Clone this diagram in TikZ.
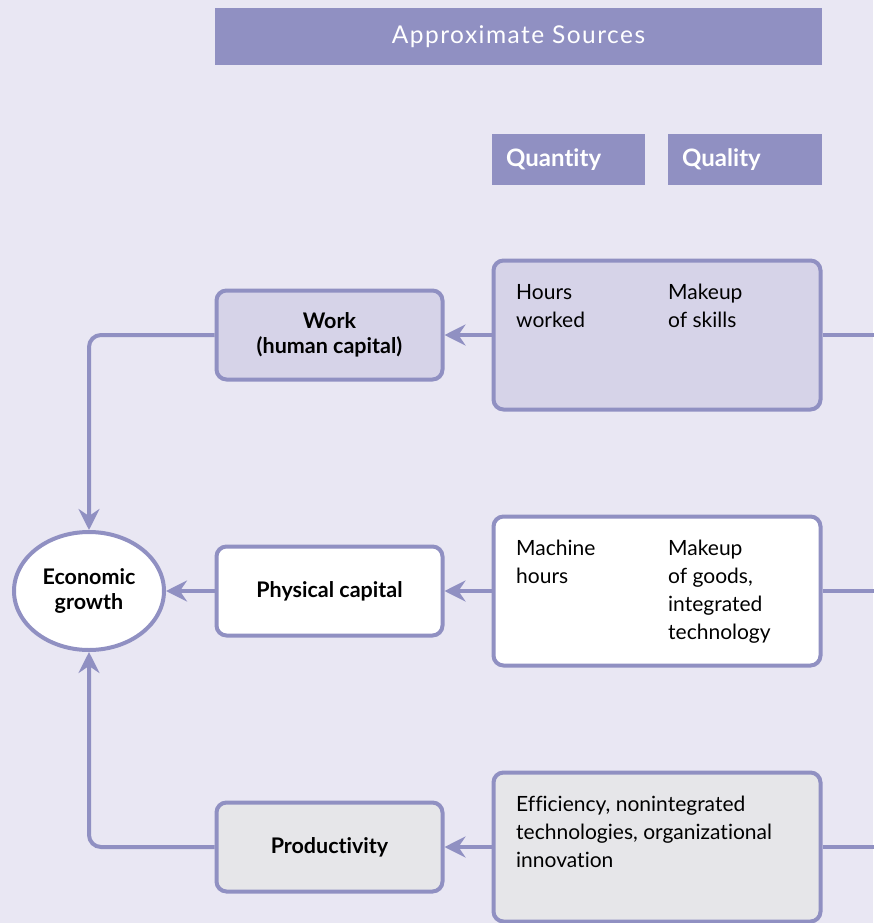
\documentclass[tikz,border=0pt]{standalone}
\usepackage{fontspec}
\setmainfont{Lato}[Ligatures={NoCommon}]
\usetikzlibrary{arrows.meta,shapes.geometric}
\definecolor{bg}{HTML}{E9E7F3}
\definecolor{acc}{HTML}{9090C2}
\definecolor{workfill}{HTML}{D6D3E8}
\definecolor{prodfill}{HTML}{E6E6E9}
\tikzset{
  box/.style={draw=acc, line width=4pt, rounded corners=10pt, inner sep=0pt},
  small/.style={box, minimum width=226pt, minimum height=89pt, align=center, font=\fontsize{21.5}{25}\selectfont\bfseries},
  big/.style={box, minimum width=327pt, minimum height=149pt},
  txt/.style={anchor=north west, inner sep=0pt, align=left, font=\fontsize{21}{28}\selectfont},
  conn/.style={draw=acc, line width=4pt},
  arr/.style={conn, -{Stealth[length=21pt,width=21pt,inset=7pt]}},
  hdr/.style={fill=acc, draw=none},
  hdrtxt/.style={text=white, inner sep=0pt, font=\fontsize{24}{28}\selectfont\bfseries}
}
\begin{document}
\begin{tikzpicture}[x=1pt,y=-1pt]
\useasboundingbox[fill=bg] (0,0) rectangle (873,923);
% headers
\path[hdr] (215,8) rectangle (822,65);
\node[text=white, inner sep=0pt, font=\fontsize{24.5}{28}\selectfont\addfontfeature{LetterSpace=6}] (title) at (518.5,37) {Approximate Sources};
\path[hdr] (492,134) rectangle (645,185);
\path[hdr] (668,134) rectangle (822,185);
\node[hdrtxt, anchor=west] (qty) at (506,160) {Quantity};
\node[hdrtxt, anchor=west] (qly) at (682,160) {Quality};
% right boxes
\node[big, fill=workfill] (r1) at (657,335) {};
\node[big, fill=white] (r2) at (657,591) {};
\node[big, fill=prodfill] (r3) at (657,847) {};
\node[txt] (t1a) at (516,284) {Hours\\worked};
\node[txt] (t1b) at (668,284) {Makeup\\of skills};
\node[txt] (t2a) at (516,540) {Machine\\hours};
\node[txt] (t2b) at (668,540) {Makeup\\of goods,\\integrated\\technology};
\node[txt] (t3a) at (516,796) {Efficiency, nonintegrated\\technologies, organizational\\innovation};
% small boxes
\node[small, fill=workfill] (work) at (329.5,335) {Work\\(human capital)};
\node[small, fill=white] (phys) at (329.5,591) {Physical capital};
\node[small, fill=prodfill] (prod) at (329.5,847) {Productivity};
% ellipse
\node[ellipse, draw=acc, line width=4pt, fill=white, minimum width=150pt, minimum height=118pt, inner sep=0pt, align=center, font=\fontsize{21.5}{25}\selectfont\bfseries] (eg) at (89,591) {Economic\\growth};
% free ends
\coordinate (e1) at (880,335);
\coordinate (e2) at (880,591);
\coordinate (e3) at (880,847);
% connectors
\draw[conn] (r1.east) -- (e1);
\draw[conn] (r2.east) -- (e2);
\draw[conn] (r3.east) -- (e3);
\draw[arr] (r1.west) -- (work.east);
\draw[arr] (r2.west) -- (phys.east);
\draw[arr] (r3.west) -- (prod.east);
\draw[arr] (phys.west) -- (eg.east);
\draw[arr, rounded corners=12pt] (work.west) -| (eg.north);
\draw[arr, rounded corners=12pt] (prod.west) -| (eg.south);
\end{tikzpicture}
\end{document}
